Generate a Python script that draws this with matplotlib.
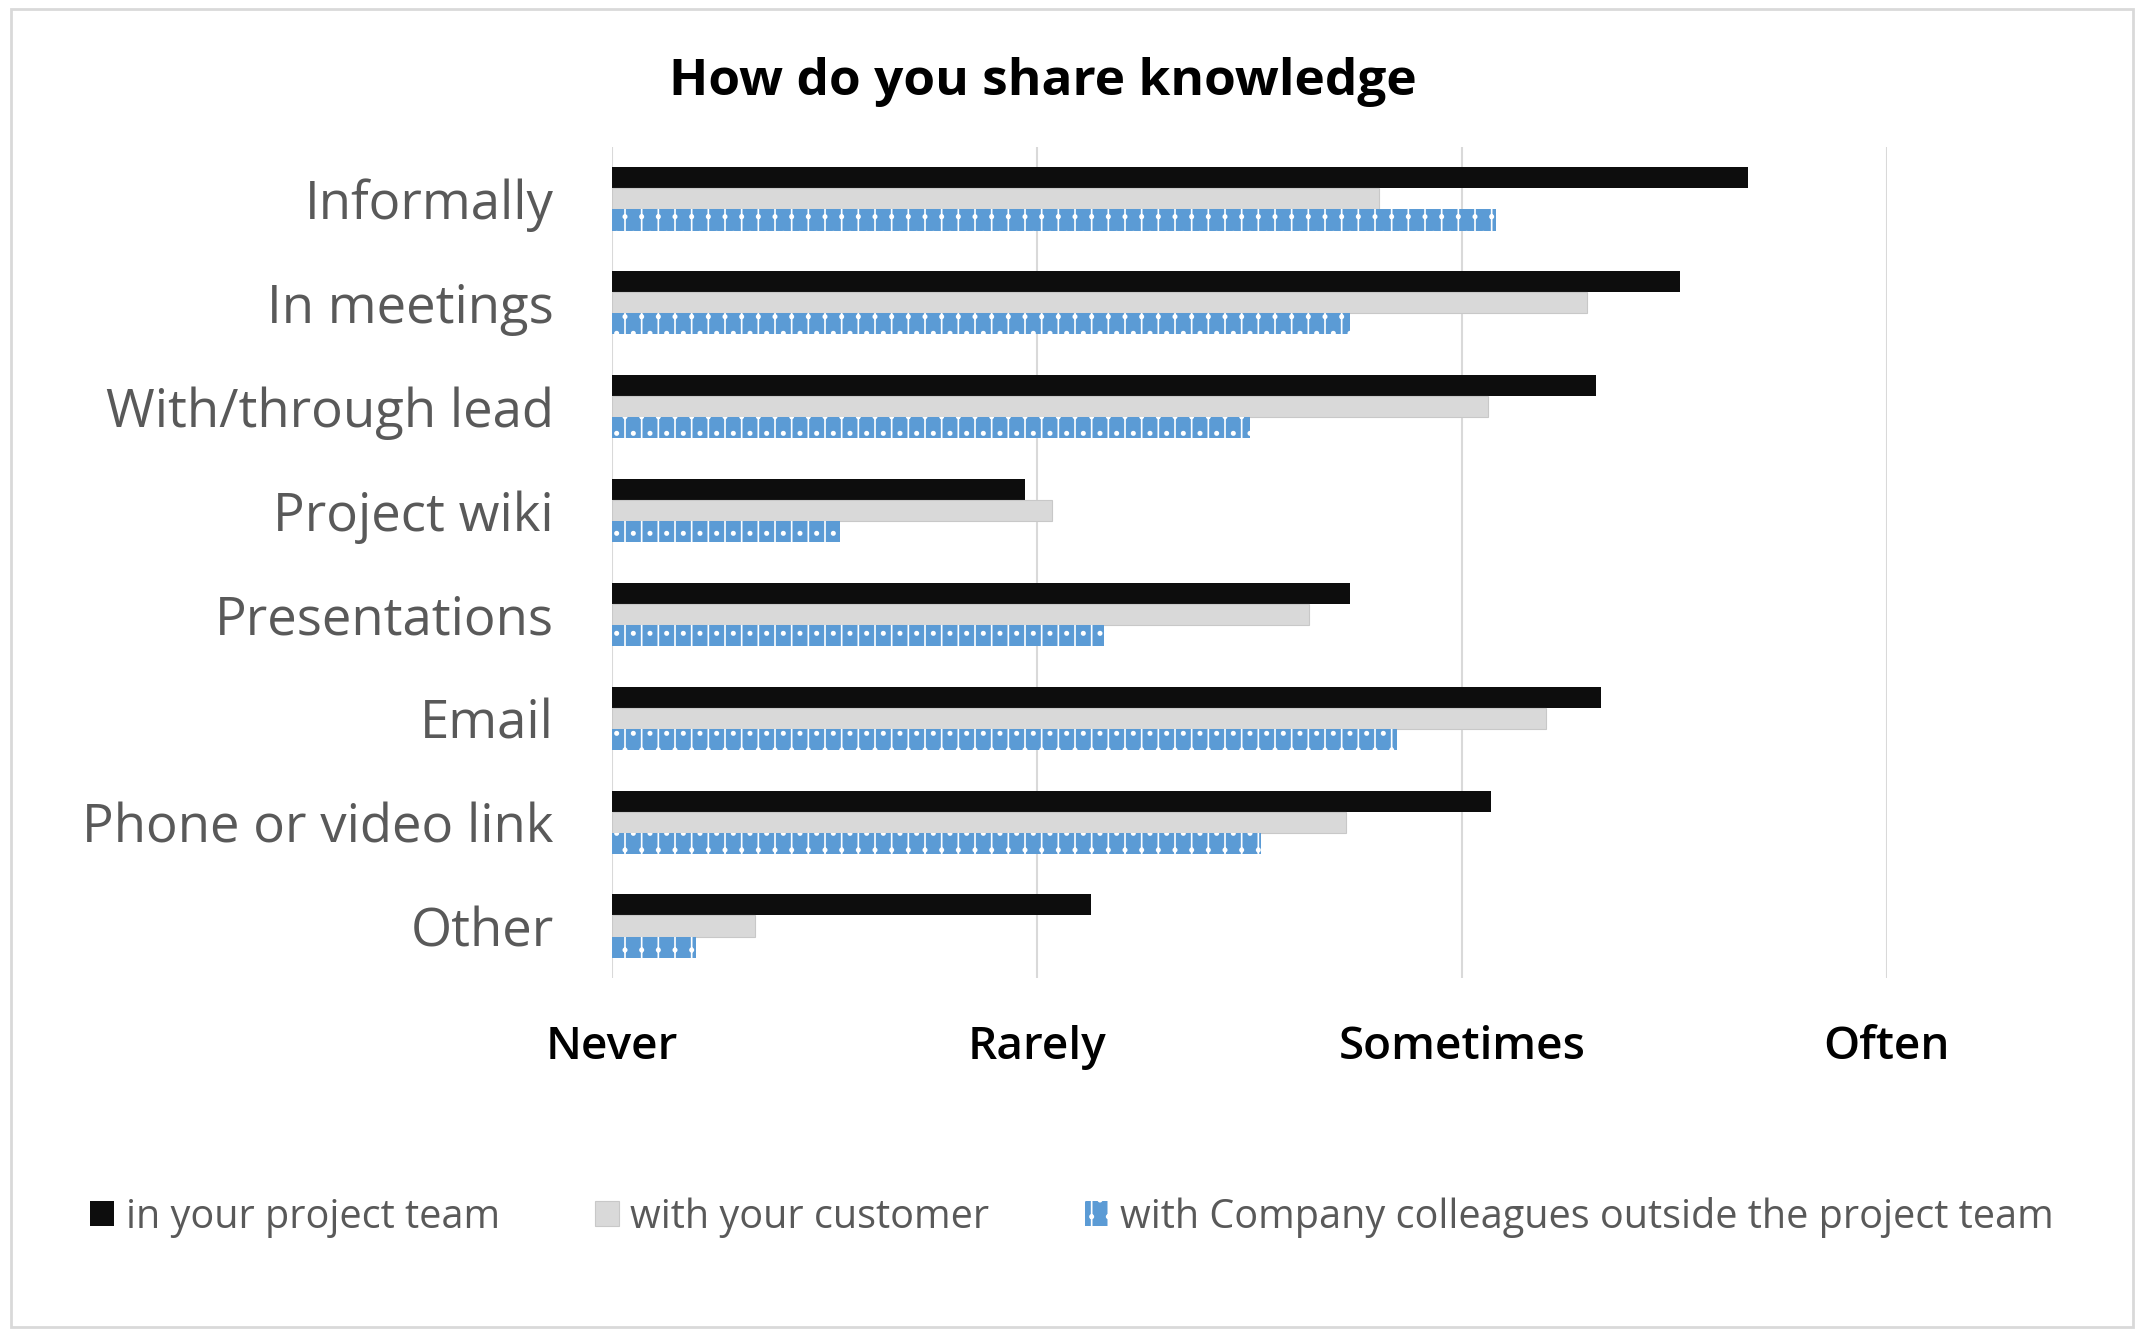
import numpy as np
import matplotlib.pyplot as plt
from matplotlib.patches import Rectangle

plt.rcParams['font.family'] = ['Open Sans', 'DejaVu Sans']
plt.rcParams['hatch.linewidth'] = 1.2

categories = ['Informally', 'In meetings', 'With/through lead', 'Project wiki',
              'Presentations', 'Email', 'Phone or video link', 'Other']
team = [2.672, 2.512, 2.315, 0.971, 1.737, 2.327, 2.068, 1.127]
customer = [1.805, 2.294, 2.061, 1.035, 1.640, 2.197, 1.727, 0.337]
colleagues = [2.080, 1.737, 1.502, 0.537, 1.158, 1.847, 1.528, 0.198]
series_names = ['in your project team', 'with your customer',
                'with Company colleagues outside the project team']
freq_labels = ['Never', 'Rarely', 'Sometimes', 'Often']

fig = plt.figure(figsize=(21.44, 13.36), dpi=100)
ax = fig.add_axes([0.2854, 0.268, 0.5947, 0.622])

y = np.arange(len(categories))
h = 0.203
b1 = ax.barh(y - h, team, height=h, color='#0d0d0d', label=series_names[0])
b2 = ax.barh(y, customer, height=h, color='#d9d9d9', edgecolor='#c8c8c8',
             linewidth=0.8, label=series_names[1])
b3 = ax.barh(y + h, colleagues, height=h, color='#5b9bd5', edgecolor='white',
             linewidth=0, hatch='|.', label=series_names[2])

ax.set_xlim(0, 3)
ax.set_ylim(len(categories) - 0.5, -0.5)
ax.set_xticks(range(4))
ax.set_xticklabels(freq_labels, fontsize=33, fontweight='semibold', color='black')
ax.set_yticks(y)
ax.set_yticklabels(categories, fontsize=38, color='#595959')
ax.tick_params(axis='x', length=0, pad=34)
ax.tick_params(axis='y', length=0, pad=42)
ax.grid(axis='x', color='#d9d9d9', linewidth=1.5)
ax.set_axisbelow(True)
for s in ax.spines.values():
    s.set_visible(False)

fig.text(0.4865, 0.9386, 'How do you share knowledge', ha='center', va='center',
         fontsize=37, fontweight='bold', color='black')

leg = fig.legend(handles=[b1, b2, b3], loc='center', bbox_to_anchor=(0.5, 0.089),
                 ncol=3, frameon=False, fontsize=28.5, handlelength=0.6,
                 handleheight=0.6, handletextpad=0.3, columnspacing=2.4)
for t in leg.get_texts():
    t.set_color('#595959')

fig.patches.append(Rectangle((0.005, 0.007), 0.99, 0.986, transform=fig.transFigure,
                             fill=False, edgecolor='#d9d9d9', linewidth=2))

fig.savefig('out.png', dpi=100)
